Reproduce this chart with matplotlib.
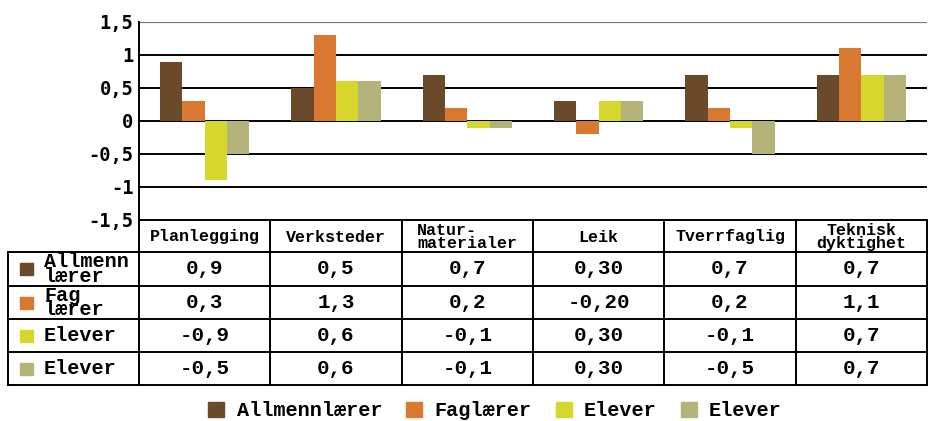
import numpy as np
import matplotlib.pyplot as plt
from matplotlib.transforms import blended_transform_factory
from matplotlib.lines import Line2D
from matplotlib.patches import Rectangle

# data
categories = ['Planlegging', 'Verksteder', 'Natur-\nmaterialer', 'Leik',
              'Tverrfaglig', 'Teknisk\ndyktighet']
row_labels = ['Allmenn\nlærer', 'Fag\nlærer', 'Elever', 'Elever']
legend_labels = ['Allmennlærer', 'Faglærer', 'Elever', 'Elever']
allmenn = [0.9, 0.5, 0.7, 0.30, 0.7, 0.7]
fag = [0.3, 1.3, 0.2, -0.20, 0.2, 1.1]
elever_a = [-0.9, 0.6, -0.1, 0.30, -0.1, 0.7]
elever_b = [-0.5, 0.6, -0.1, 0.30, -0.5, 0.7]
decimals = [1, 1, 1, 2, 1, 1]
yticks = [-1.5, -1, -0.5, 0, 0.5, 1, 1.5]

series = [allmenn, fag, elever_a, elever_b]
colors = ['#6b4a2b', '#d97830', '#d6d62c', '#b3b37a']

W, H = 930, 421
fig = plt.figure(figsize=(W / 100, H / 100), dpi=100)

def fy(p):
    return 1 - p / H

ax_left, ax_right, ax_top, ax_bot = 139, 927, 22, 220
ax = fig.add_axes([ax_left / W, fy(ax_bot), (ax_right - ax_left) / W, (ax_bot - ax_top) / H])

x = np.arange(len(categories))
bw = 0.17
for i, (vals, c) in enumerate(zip(series, colors)):
    ax.bar(x + 0.5 + (i - 1.5) * bw, vals, bw, color=c, zorder=3)

ax.set_xlim(0, len(categories))
ax.set_ylim(-1.5, 1.5)
ax.set_yticks(yticks)
ax.set_yticklabels([('%g' % v).replace('.', ',') for v in yticks],
                   family='DejaVu Sans Mono', fontweight='bold', fontsize=13.5)
ax.tick_params(axis='y', length=0, pad=4)
ax.set_xticks([])
for v in yticks[1:-1]:
    ax.axhline(v, color='black', lw=1.4, zorder=1)
ax.axhline(1.5, color='#777777', lw=1.6, zorder=1)
for s in ['top', 'right', 'bottom']:
    ax.spines[s].set_visible(False)
ax.spines['left'].set_linewidth(1.4)

# table below the axes
tr = blended_transform_factory(ax.transData, fig.transFigure)
mono = 'Liberation Mono'
rows_px = [220, 252, 286, 319, 352, 385]
left_px = 8

for p in rows_px:
    x0 = ax_left / W if p == 220 else left_px / W
    fig.add_artist(Line2D([x0, ax_right / W], [fy(p), fy(p)], color='black', lw=1.4))
for j in range(len(categories) + 1):
    fig.add_artist(Line2D([j, j], [fy(220), fy(385)], color='black', lw=1.4, transform=tr))
fig.add_artist(Line2D([left_px / W, left_px / W], [fy(252), fy(385)], color='black', lw=1.4))

for j, cat in enumerate(categories):
    fig.text(j + 0.5, fy(237), cat, transform=tr, ha='center', va='center',
             ma='left' if j == 2 else 'center', family=mono, fontweight='bold',
             fontsize=12, linespacing=0.8)

for i, (vals, lab, c) in enumerate(zip(series, row_labels, colors)):
    yc = fy((rows_px[i + 1] + rows_px[i + 2]) / 2)
    fig.add_artist(Rectangle((20 / W, yc - 6 / H), 13 / W, 12 / H, color=c))
    fig.text(44 / W, yc, lab, ha='left', va='center', family=mono, fontweight='bold',
             fontsize=14.5, linespacing=0.7)
    for j, v in enumerate(vals):
        s = ('%.*f' % (decimals[j], v)).replace('.', ',')
        fig.text(j + 0.5, yc, s, transform=tr, ha='center', va='center',
                 family=mono, fontweight='bold', fontsize=15)

handles = [Rectangle((0, 0), 1, 1, color=c) for c in colors]
fig.legend(handles, legend_labels, loc='center', bbox_to_anchor=(495 / W, fy(411)),
           ncol=4, frameon=False, handlelength=0.8, handleheight=0.8,
           handletextpad=0.6, columnspacing=1.2,
           prop={'family': mono, 'weight': 'bold', 'size': 14.5})

fig.savefig('out.png', dpi=100)
